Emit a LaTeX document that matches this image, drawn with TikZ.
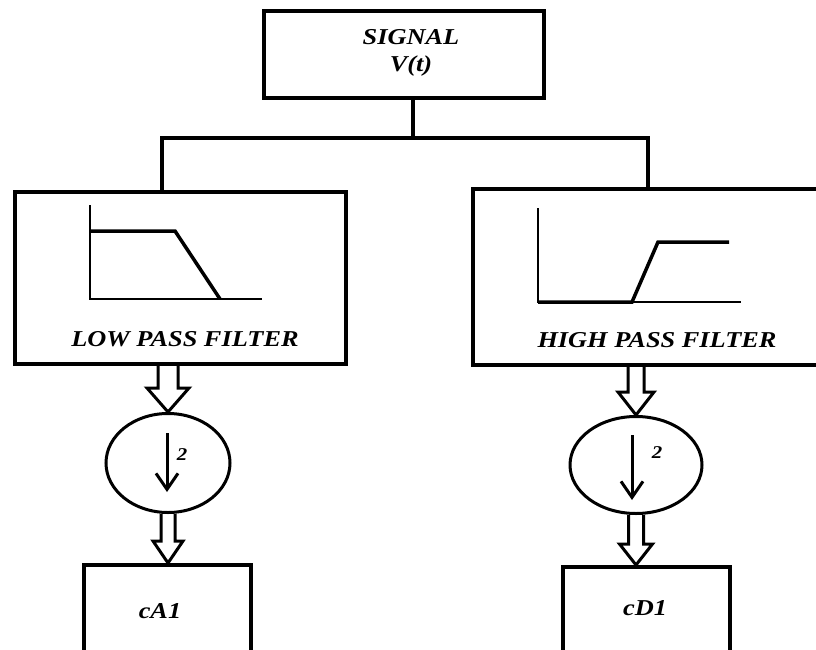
\documentclass[tikz,border=0pt]{standalone}
\usepackage{fontspec}
\setmainfont{Liberation Serif}
\newfontfamily\labfont[FakeStretch=1.16]{Liberation Serif}
\usetikzlibrary{arrows.meta,calc,shapes.geometric}
\newcommand\hollowarrow[5]{%
  \draw[hollow] let \p1=(#1), \p2=(#2) in
    (\x2-#3,\y1) -- (\x2-#3,\y2+#5) -- (\x2-#4,\y2+#5) -- (\x2,\y2)
    -- (\x2+#4,\y2+#5) -- (\x2+#3,\y2+#5) -- (\x2+#3,\y1);}
\begin{document}
\begin{tikzpicture}[x=1pt,y=-1pt,
  box/.style={draw,line width=4pt,inner sep=0pt},
  lbl/.style={font=\labfont\fontsize{22.7}{27}\selectfont\bfseries\itshape,inner sep=0pt,align=center},
  small/.style={font=\labfont\fontsize{18}{20}\selectfont\bfseries\itshape,inner sep=0pt},
  wire/.style={line width=4pt,line join=miter},
  axis/.style={line width=1.3pt},
  curve/.style={line width=3.5pt,line join=miter},
  hollow/.style={draw,line width=3pt,line join=miter},
  sampler/.style={draw,ellipse,line width=3pt,inner sep=0pt},
  down/.style={line width=3pt,-{Straight Barb[length=16pt,width=22pt]}}]

\clip (0,0) rectangle (816,650);
\fill[white] (0,0) rectangle (816,650);

% boxes
\node[box,minimum width=280pt,minimum height=87pt] (sig) at (404,54.5) {};
\node[lbl] (sigtxt) at (411,53) {SIGNAL\\V(t)};
\node[box,minimum width=331pt,minimum height=172pt] (lpf) at (180.5,278) {};
\node[box,minimum width=360pt,minimum height=176pt] (hpf) at (653,277) {};
\node[box,minimum width=167pt,minimum height=120pt] (ca) at (167.5,625) {};
\node[box,minimum width=167pt,minimum height=120pt] (cd) at (646.5,627) {};

% samplers
\node[sampler,minimum width=124pt,minimum height=99pt] (sl) at (168,463) {};
\node[sampler,minimum width=132pt,minimum height=97pt] (sr) at (636,465) {};

% labels
\node[lbl] (lpft) at (185,339) {LOW PASS FILTER};
\node[lbl] (hpft) at (657,340) {HIGH PASS FILTER};
\node[lbl] (cat) at (160,611) {cA1};
\node[lbl] (cdt) at (645,608) {cD1};
\node[small] (tl) at (182,455) {2};
\node[small] (tr) at (657,453) {2};

% wiring from signal
\coordinate (j) at (413,138);
\coordinate (jl) at (162,138);
\coordinate (jr) at (648,138);
\draw[wire] (j |- sig.south) -- (j);
\draw[wire] (lpf.north -| jl) -- (jl) -- (jr) -- (hpf.north -| jr);

% low pass response
\coordinate (lo) at (90,299);
\draw[axis] (90,205) -- (lo) -- (262,299);
\draw[curve] (90,231) -- (175,231) -- (220,299);

% high pass response
\coordinate (ho) at (538,302);
\draw[axis] (538,208) -- (ho) -- (741,302);
\draw[curve] (ho) -- (632,302) -- (658,242) -- (729,242);

% hollow arrows
\hollowarrow{lpf.south -| sl.north}{sl.north}{10pt}{21pt}{24pt}
\hollowarrow{sl.south}{sl.south |- ca.north}{7pt}{15pt}{22pt}
\hollowarrow{hpf.south -| sr.north}{sr.north}{8pt}{18pt}{23pt}
\hollowarrow{sr.south}{sr.south |- cd.north}{7.5pt}{16.5pt}{21pt}

% downsampling arrows
\coordinate (dl1) at (167,433);
\coordinate (dl2) at (167,492);
\coordinate (dr1) at (632,435);
\coordinate (dr2) at (632,500);
\draw[down] (dl1) -- (dl2);
\draw[down] (dr1) -- (dr2);
\end{tikzpicture}
\end{document}
